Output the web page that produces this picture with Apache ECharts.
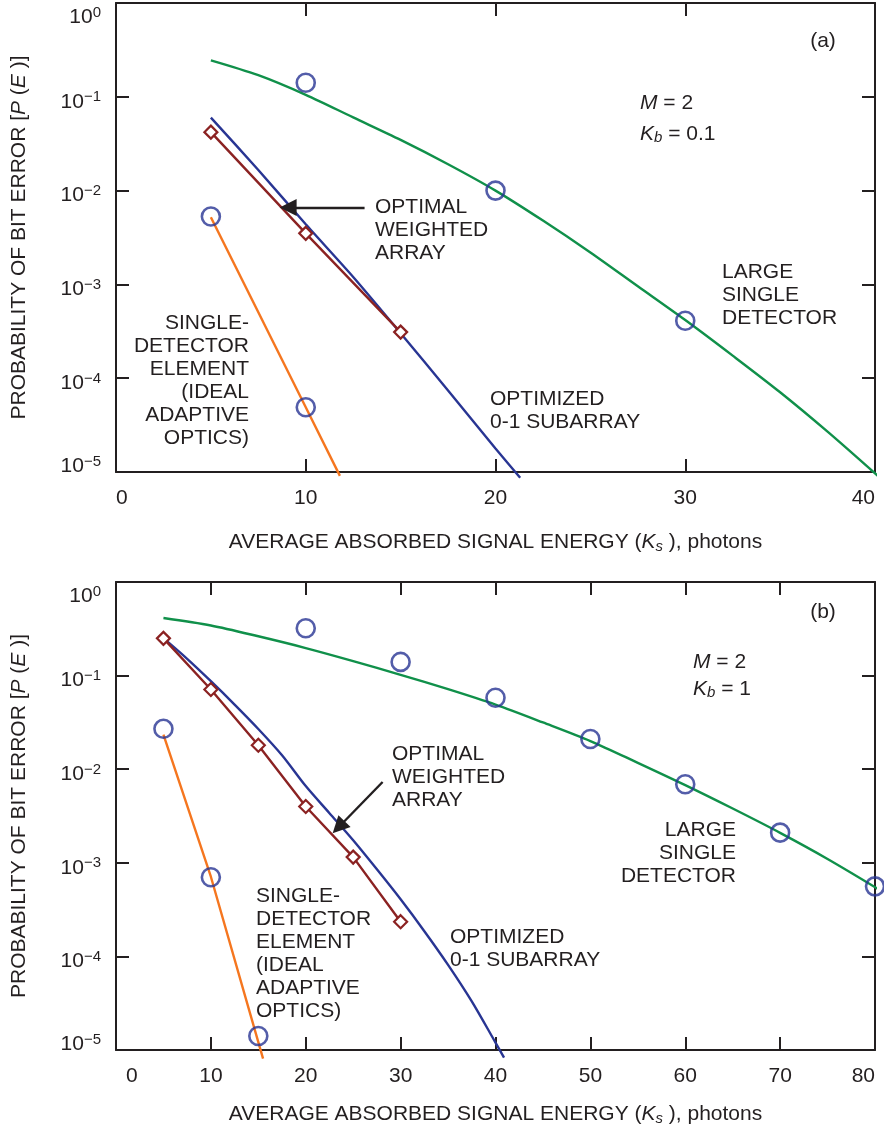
<!DOCTYPE html>
<html>
<head>
<meta charset="utf-8">
<script src="https://cdn.jsdelivr.net/npm/echarts@6/dist/echarts.min.js"></script>
<style>
html,body{margin:0;padding:0;background:#fff;}
#chart{width:884px;height:1135px;}
</style>
</head>
<body>
<div id="chart"></div>
<script>
// ---------- DATA ----------
// Panel (a): M = 2, Kb = 0.1
const xTicksA = [0, 10, 20, 30, 40];
const largeDetA = [[5,0.245],[7.5,0.17],[10,0.105],[12.5,0.0603],[15,0.0347],[17.5,0.0191],[20,0.0100],[22.5,0.00479],[25,0.00219],[27.5,0.000955],[30,0.000417],[32.5,0.000174],[35,0.0000708],[37.5,0.0000269],[40.2,0.0000089]];
const subarrayA = [[5,0.060],[7.5,0.0166],[10,0.00437],[12.5,0.0012],[15,0.000302],[17.5,0.0000741],[20,0.0000178],[21.3,0.0000087]];
const weightedA = [[5,0.042],[10,0.0035],[15,0.00031]];
const singleElemA = [[5,0.0052],[10,0.000049],[11.8,0.0000091]];
const circlesA = [[5,0.0053],[10,0.141],[10,0.000049],[20,0.0100],[30,0.00041]];
const arrowA = [[13.1,0.0066],[9.07,0.0066]];

// Panel (b): M = 2, Kb = 1
const xTicksB = [0, 10, 20, 30, 40, 50, 60, 70, 80];
const largeDetB = [[5,0.412],[10,0.343],[15,0.263],[20,0.197],[25,0.143],[30,0.102],[35,0.0716],[40,0.049],[45,0.0316],[50,0.020],[55,0.0117],[60,0.00676],[65,0.0038],[70,0.00209],[75,0.0011],[80.5,0.000513]];
const subarrayB = [[5,0.251],[7.5,0.151],[10,0.0871],[12.5,0.049],[15,0.0269],[17.5,0.0141],[20,0.0066],[22.5,0.00339],[25,0.00174],[27.5,0.000851],[30,0.000407],[32.5,0.000186],[35,0.0000813],[37.5,0.0000331],[40,0.0000120],[40.9,0.0000083]];
const weightedB = [[5,0.25],[10,0.071],[15,0.018],[20,0.0040],[25,0.00115],[30,0.000235]];
const singleElemB = [[5,0.0234],[10,0.00071],[15.5,0.0000081]];
const circlesB = [[5,0.027],[10,0.0007],[15,0.0000141],[20,0.32],[30,0.14],[40,0.058],[50,0.021],[60,0.0069],[70,0.0021],[80,0.00056]];
const arrowB = [[28.1,0.0073],[23.46,0.0024]];

const yMin = 1e-5, yMax = 1;

// ---------- STYLE ----------
const FONT = '"Liberation Sans", Arial, Helvetica, sans-serif';
const TXT = '#231f20';
const GREEN = '#10904a';
const BLUE = '#283593';
const BROWN = '#8b2222';
const ORANGE = '#f5761f';

function yFmt(v){
  const e = Math.round(Math.log10(v));
  const s = e === 0 ? '0' : '\u2212' + (-e);
  if (e === 0) return '{sp0| }\n{b|10}{s|' + s + '}';
  if (e === -5) return '{b|10}{s|' + s + '}\n{sp1| }';
  return '{sp2| }\n{b|10}{s|' + s + '}';
}
const yRich = {
  b:{fontSize:21,lineHeight:24,fontFamily:FONT,color:TXT},
  s:{fontSize:15,lineHeight:10,verticalAlign:'top',fontFamily:FONT,color:TXT},
  sp0:{fontSize:8,lineHeight:28},
  sp1:{fontSize:8,lineHeight:12},
  sp2:{fontSize:8,lineHeight:10}
};
const axisLineStyle = {show:true,onZero:false,lineStyle:{color:TXT,width:2}};
const tickStyle = {show:true,inside:true,length:13,lineStyle:{color:TXT,width:2}};

function xAxisBottom(grid, max, nameGap, minPad){
  return {
    type:'value', gridIndex:grid, position:'bottom', min:0, max:max, interval:10,
    axisLine:axisLineStyle, axisTick:tickStyle, splitLine:{show:false},
    axisLabel:{
      margin:16, fontSize:21, fontFamily:FONT, color:TXT,
      alignMinLabel:'left', alignMaxLabel:'right',
      formatter:function(v){ return v === 0 ? '{p|0}' : String(v); },
      rich:{p:{fontSize:21,fontFamily:FONT,color:TXT,padding:[0,0,0,minPad]}}
    },
    name:'AVERAGE ABSORBED SIGNAL ENERGY ({i|K}{sub|s} ), photons',
    nameLocation:'middle', nameGap:nameGap,
    nameTextStyle:{fontSize:21,fontFamily:FONT,color:TXT,
      rich:{i:{fontSize:21,fontStyle:'italic',fontFamily:FONT,color:TXT,lineHeight:24},
            sub:{fontSize:15,fontStyle:'italic',fontFamily:FONT,color:TXT,lineHeight:12,verticalAlign:'bottom'}}}
  };
}
function xAxisTop(grid, max){
  return {type:'value', gridIndex:grid, position:'top', min:0, max:max, interval:10,
    axisLine:axisLineStyle, axisTick:tickStyle, axisLabel:{show:false}, splitLine:{show:false}};
}
function yAxisLeft(grid){
  return {
    type:'log', logBase:10, gridIndex:grid, position:'left', min:yMin, max:yMax,
    axisLine:axisLineStyle, axisTick:tickStyle, splitLine:{show:false}, minorTick:{show:false},
    axisLabel:{margin:15, formatter:yFmt, rich:yRich},
    name:'PROBABILITY OF BIT ERROR [{i|P} ({i|E} )]',
    nameLocation:'middle', nameGap:86, nameRotate:90,
    nameTextStyle:{fontSize:21,fontFamily:FONT,color:TXT,
      rich:{i:{fontSize:21,fontStyle:'italic',fontFamily:FONT,color:TXT}}}
  };
}
function yAxisRight(grid){
  return {type:'log', logBase:10, gridIndex:grid, position:'right', min:yMin, max:yMax,
    axisLine:axisLineStyle, axisTick:tickStyle, axisLabel:{show:false}, splitLine:{show:false}};
}

function curve(xi, yi, data, color, smooth){
  return {type:'line', xAxisIndex:xi, yAxisIndex:yi, data:data, symbol:'none', showSymbol:false,
    smooth:smooth, clip:false, lineStyle:{color:color,width:2.4}, z:3, silent:true};
}
function diamonds(xi, yi, data){
  return {type:'line', xAxisIndex:xi, yAxisIndex:yi, data:data, symbol:'diamond', symbolSize:13,
    showSymbol:true, clip:false, lineStyle:{color:BROWN,width:2.4},
    itemStyle:{color:'#ffffff',borderColor:BROWN,borderWidth:2.2}, z:4, silent:true};
}
function circles(xi, yi, data){
  return {type:'scatter', xAxisIndex:xi, yAxisIndex:yi, data:data, symbol:'circle', symbolSize:18,
    clip:false, itemStyle:{color:'rgba(255,255,255,0)',borderColor:BLUE,borderWidth:2.6}, z:5, silent:true};
}
function arrow(xi, yi, pts){
  return {type:'lines', coordinateSystem:'cartesian2d', xAxisIndex:xi, yAxisIndex:yi,
    data:[{coords:pts}], symbol:['none','triangle'], symbolSize:[13,17],
    lineStyle:{color:TXT,width:2.4,opacity:1,curveness:0}, z:6, silent:true};
}

function txt(x, yFirstCenter, text, align, lh){
  lh = lh || 23;
  return {type:'text', x:x, y:yFirstCenter - lh/2, silent:true,
    style:{text:text, fill:TXT, fontSize:21, fontFamily:FONT, lineHeight:lh,
      align:align||'left', verticalAlign:'top',
      rich:{
        i:{fontSize:21,fontStyle:'italic',fontFamily:FONT,fill:TXT,color:TXT,lineHeight:lh},
        sub:{fontSize:15,fontStyle:'italic',fontFamily:FONT,fill:TXT,color:TXT,lineHeight:12,verticalAlign:'bottom'}
      }}};
}

const option = {
  animation:false,
  backgroundColor:'#ffffff',
  grid:[
    {left:116, right:9, top:3, height:469, containLabel:false, outerBoundsMode:'none'},
    {left:116, right:9, top:582, height:468, containLabel:false, outerBoundsMode:'none'}
  ],
  xAxis:[ xAxisBottom(0,40,58,0), xAxisTop(0,40), xAxisBottom(1,80,52,10), xAxisTop(1,80) ],
  yAxis:[ yAxisLeft(0), yAxisRight(0), yAxisLeft(1), yAxisRight(1) ],
  series:[
    curve(0,0,largeDetA,GREEN,0.3),
    curve(0,0,subarrayA,BLUE,0.2),
    curve(0,0,singleElemA,ORANGE,0),
    diamonds(0,0,weightedA),
    circles(0,0,circlesA),
    arrow(0,0,arrowA),
    curve(2,2,largeDetB,GREEN,0.3),
    curve(2,2,subarrayB,BLUE,0.3),
    curve(2,2,singleElemB,ORANGE,0),
    diamonds(2,2,weightedB),
    circles(2,2,circlesB),
    arrow(2,2,arrowB)
  ],
  graphic:[
    txt(823,41,'(a)','center'),
    txt(640,103,'{i|M} = 2'),
    txt(640,134,'{i|K}{sub|b} = 0.1'),
    txt(375,207,'OPTIMAL\nWEIGHTED\nARRAY'),
    txt(722,272,'LARGE\nSINGLE\nDETECTOR'),
    txt(490,399,'OPTIMIZED\n0-1 SUBARRAY'),
    txt(249,323,'SINGLE-\nDETECTOR\nELEMENT\n(IDEAL\nADAPTIVE\nOPTICS)','right'),
    txt(823,612,'(b)','center'),
    txt(693,662,'{i|M} = 2'),
    txt(693,689,'{i|K}{sub|b} = 1'),
    txt(392,754,'OPTIMAL\nWEIGHTED\nARRAY'),
    txt(736,830,'LARGE\nSINGLE\nDETECTOR','right'),
    txt(450,937,'OPTIMIZED\n0-1 SUBARRAY'),
    txt(256,896,'SINGLE-\nDETECTOR\nELEMENT\n(IDEAL\nADAPTIVE\nOPTICS)')
  ]
};

const chart = echarts.init(document.getElementById('chart'), null, {renderer:'canvas'});
chart.setOption(option);
</script>
</body>
</html>
